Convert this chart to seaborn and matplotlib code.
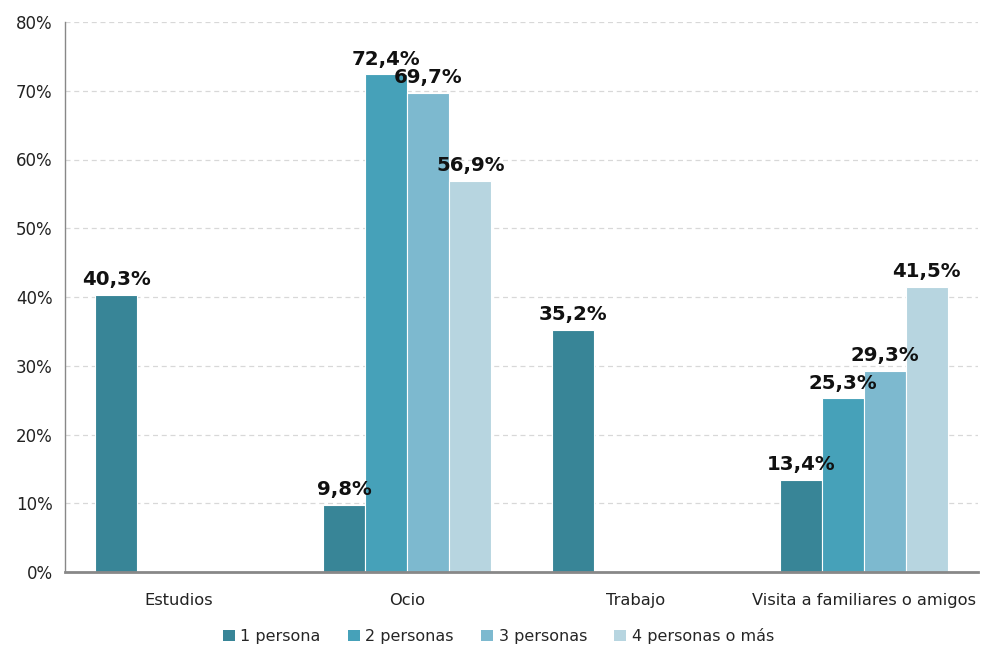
import numpy as np
import pandas as pd
import matplotlib
matplotlib.use("Agg")
import matplotlib.pyplot as plt
import seaborn as sns
from matplotlib.patches import Patch

categories = ["Estudios", "Ocio", "Trabajo", "Visita a familiares o amigos"]
series = ["1 persona", "2 personas", "3 personas", "4 personas o más"]
v1 = [40.3, 9.8, 35.2, 13.4]
v2 = [np.nan, 72.4, np.nan, 25.3]
v3 = [np.nan, 69.7, np.nan, 29.3]
v4 = [np.nan, 56.9, np.nan, 41.5]
colors = ["#388597", "#46a1b9", "#7db9cf", "#b7d5e0"]

rows = []
for s, vals in zip(series, [v1, v2, v3, v4]):
    for c, v in zip(categories, vals):
        rows.append({"cat": c, "serie": s, "val": v})
df = pd.DataFrame(rows)

sns.set_style("white")
plt.rcParams['font.family'] = ['DejaVu Sans']

fig = plt.figure(figsize=(9.81, 6.45), dpi=100)
ax = fig.add_axes([65/981, 1 - 572/645, (978-65)/981, (572-22)/645])

sns.barplot(data=df, x="cat", y="val", hue="serie", order=categories,
            hue_order=series, palette=colors, saturation=1, width=0.735, ax=ax,
            edgecolor="white", linewidth=0.8, legend=False, errorbar=None)

for cont in ax.containers:
    labels = []
    for b in cont:
        h = b.get_height()
        labels.append("" if (h is None or np.isnan(h) or h == 0) else f"{h:.1f}%".replace(".", ","))
    ax.bar_label(cont, labels=labels, padding=4, fontsize=14.2, fontweight="bold", color="#111111")

ax.set_ylim(0, 80)
ax.set_xlim(-0.5, 3.5)
ax.set_yticks(range(0, 81, 10))
ax.set_yticklabels([f"{t}%" for t in range(0, 81, 10)], fontsize=12, color="#222222")
ax.tick_params(axis="y", length=5, color="#888888", width=1, pad=4)
ax.tick_params(axis="x", length=0, labelsize=11.7, labelcolor="#222222", pad=15)
ax.set_xlabel("")
ax.set_ylabel("")
ax.yaxis.grid(True, linestyle=(0, (4, 3)), color="#d8d8d8", linewidth=0.9)
ax.set_axisbelow(True)
for sp in ["top", "right"]:
    ax.spines[sp].set_visible(False)
ax.spines["left"].set_color("#888888")
ax.spines["left"].set_linewidth(1)
ax.spines["bottom"].set_color("#888888")
ax.spines["bottom"].set_linewidth(2)

handles = [Patch(facecolor=c, edgecolor="none") for c in colors]
fig.legend(handles, series, loc="center", bbox_to_anchor=(0.508, 1 - 636/645),
           ncol=4, frameon=False, fontsize=11.5, handlelength=0.75, handleheight=0.75,
           handletextpad=0.35, columnspacing=1.7)

fig.savefig("out.png", dpi=100)
